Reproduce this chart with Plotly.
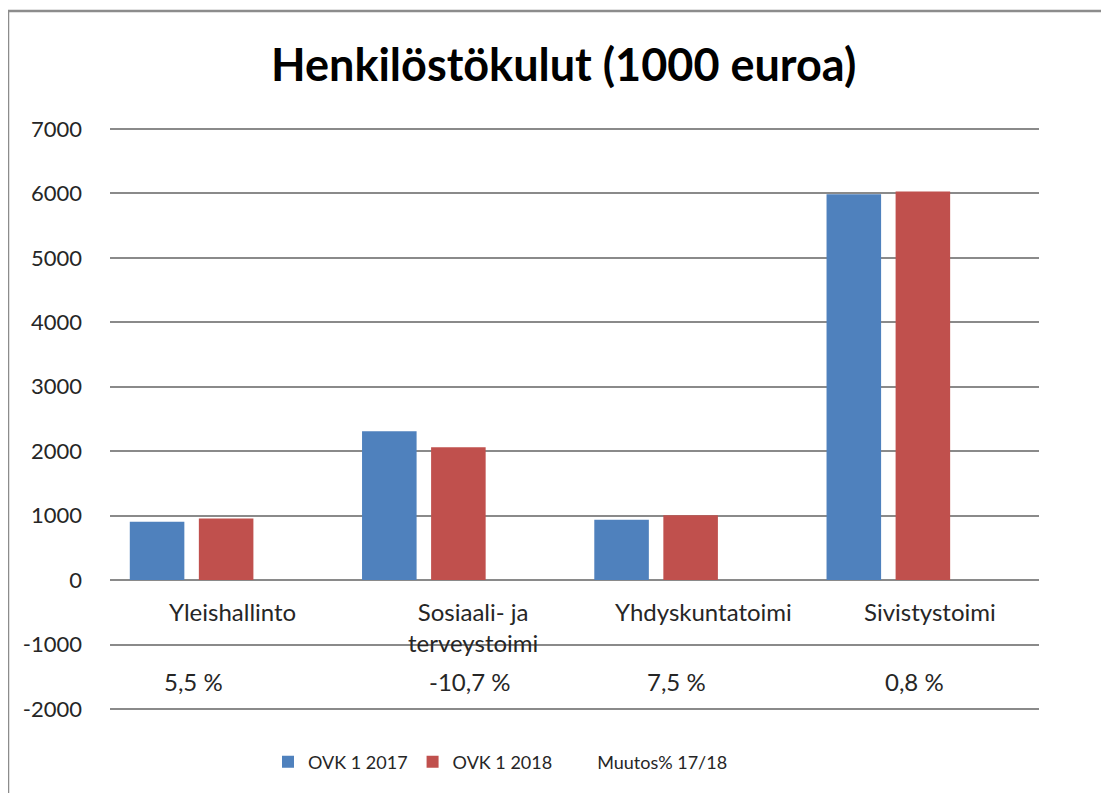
import plotly.graph_objects as go

# ---- data ----
categories = ["Yleishallinto", "Sosiaali- ja terveystoimi", "Yhdyskuntatoimi", "Sivistystoimi"]
category_labels = ["Yleishallinto", "Sosiaali- ja<br>terveystoimi", "Yhdyskuntatoimi", "Sivistystoimi"]
ovk_2017 = [905, 2310, 935, 5990]
ovk_2018 = [955, 2063, 1005, 6030]
muutos = [5.5, -10.7, 7.5, 0.8]
muutos_labels = ["5,5 %", "-10,7 %", "7,5 %", "0,8 %"]
series_names = ["OVK 1 2017", "OVK 1 2018", "Muutos% 17/18"]
y_ticks = [-2000, -1000, 0, 1000, 2000, 3000, 4000, 5000, 6000, 7000]
y_ticktext = ["-2000", "-1000", "0", "1000", "2000", "3000", "4000", "5000", "6000", "7000"]
title_text = "Henkilöstökulut (1000 euroa)"

# ---- style ----
FONT = "Lato"
TXT = "#262626"
GRID = "#8a8a8a"
BLUE = "#4F81BD"
RED = "#C0504D"
OFF = 8  # page body margin
W, H = 1109 - OFF, 793 - OFF
PAD_UNITS = 32  # small range padding so edge gridlines are drawn
PX_PER_UNIT = 580 / 9000
pad_px = PAD_UNITS * PX_PER_UNIT
# plot area in screenshot pixels: x 110..1039, y (129-pad)..(709+pad)
ML = 110 - OFF
MT = int(round(129 - pad_px - OFF))
MR = W - (1039 - OFF)
MB = int(round(H - (709 + pad_px - OFF)))
label_xshift = [6, 15, 13, 7]
pct_xshift = [-33, 12, -14, -8]
pct_y = -1580

pw = W - ML - MR
ph = H - MT - MB

def px_x(p):
    return (p - OFF - ML) / pw

def px_y(p):
    return (H - MB - (p - OFF)) / ph

fig = go.Figure()
fig.add_trace(go.Bar(x=categories, y=ovk_2017, name=series_names[0],
                     marker=dict(color=BLUE, line=dict(width=0))))
fig.add_trace(go.Bar(x=categories, y=ovk_2018, name=series_names[1],
                     marker=dict(color=RED, line=dict(width=0))))
fig.add_trace(go.Bar(x=categories, y=muutos, name=series_names[2],
                     marker=dict(color="rgba(0,0,0,0)", line=dict(width=0))))

annotations = []
for c, lab, dx in zip(categories, category_labels, label_xshift):
    annotations.append(dict(x=c, y=0, xref="x", yref="y", text=lab, showarrow=False,
                            yanchor="top", yshift=-15, xshift=dx,
                            font=dict(family=FONT, size=24, color=TXT)))
for c, lab, dx in zip(categories, muutos_labels, pct_xshift):
    annotations.append(dict(x=c, y=pct_y, xref="x", yref="y", text=lab, showarrow=False,
                            yanchor="middle", xshift=dx,
                            font=dict(family=FONT, size=24, color=TXT)))
annotations.append(dict(x=px_x(563), y=px_y(64), xref="paper", yref="paper",
                        text="<b>" + title_text + "</b>", showarrow=False,
                        xanchor="center", yanchor="middle",
                        font=dict(family=FONT, size=45, color="#000000")))

fig.update_layout(
    width=W, height=H,
    margin=dict(l=ML, r=MR, t=MT, b=MB, pad=0),
    paper_bgcolor="white", plot_bgcolor="white",
    barmode="group", bargap=0.108, bargroupgap=0.21,
    showlegend=True,
    legend=dict(orientation="h", x=px_x(268), xanchor="left", y=px_y(762), yanchor="middle",
                font=dict(family=FONT, size=18, color=TXT), itemwidth=30,
                traceorder="normal", bgcolor="rgba(0,0,0,0)"),
    annotations=annotations,
    xaxis=dict(showticklabels=False, showgrid=False, zeroline=False, showline=False,
               ticks=""),
    yaxis=dict(range=[-2000 - PAD_UNITS, 7000 + PAD_UNITS], tickvals=y_ticks, ticktext=y_ticktext,
               showgrid=True, gridcolor=GRID,
               gridwidth=2, zeroline=True, zerolinecolor=GRID, zerolinewidth=2,
               showline=False, ticks="", ticklabelstandoff=27,
               tickfont=dict(family=FONT, size=22, color=TXT)),
    shapes=[dict(type="rect", xref="paper", yref="paper",
                 x0=px_x(8), x1=px_x(1125), y0=px_y(810), y1=px_y(11),
                 line=dict(color="#8c8c8c", width=2.5), layer="below")],
)

fig.write_html("out.html")
